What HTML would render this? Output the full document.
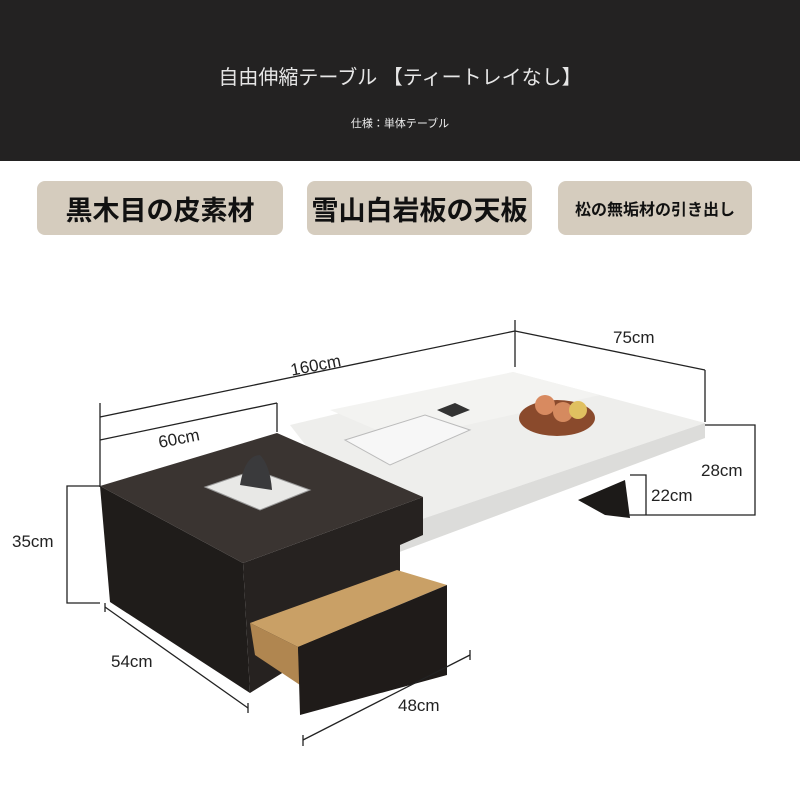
<!DOCTYPE html>
<html><head><meta charset="utf-8"><style>
body{margin:0;width:800px;height:800px;background:#fff;overflow:hidden;font-family:"Liberation Sans","Noto Sans CJK JP",sans-serif}
.hd{position:absolute;left:0;top:0;width:800px;height:161px;background:#232222}
.t1{position:absolute;top:61px;left:0;width:800px;text-align:center;color:#e6e6e6;font-size:20px}
.t2{position:absolute;top:115px;left:0;width:800px;text-align:center;color:#eee;font-size:11px}
.b{position:absolute;top:181px;height:54px;background:#d5ccbe;border-radius:8px;display:flex;align-items:center;justify-content:center;color:#111;font-weight:bold}
</style></head><body>
<div class="hd"></div>
<div class="t1">自由伸縮テーブル 【ティートレイなし】</div>
<div class="t2">仕様：単体テーブル</div>
<div class="b" style="left:37px;width:246px;font-size:27px">黒木目の皮素材</div>
<div class="b" style="left:307px;width:225px;font-size:27px">雪山白岩板の天板</div>
<div class="b" style="left:558px;width:194px;font-size:16px">松の無垢材の引き出し</div>
<svg width="800" height="800" style="position:absolute;left:0;top:0" font-family="Liberation Sans, sans-serif">
<polygon points="578,500 625,480 630,518 605,515" fill="#1c1a18"/>
<polygon points="290,425 513,372 705,423 375,535" fill="#eeeeec"/>
<polygon points="375,535 705,423 705,438 378,560" fill="#dcdcda"/>
<polygon points="330,410 513,372 600,395 400,440" fill="#f3f3f1"/>
<ellipse cx="557" cy="418" rx="38" ry="18" fill="#8a4a2c"/>
<circle cx="545" cy="405" r="10" fill="#d88a60"/><circle cx="563" cy="412" r="10" fill="#d58a5f"/><circle cx="578" cy="410" r="9" fill="#e0c060"/>
<polygon points="437,410 455,403 470,410 452,417" fill="#333"/>
<polygon points="345,440 425,415 470,430 390,465" fill="#f7f7f7" stroke="#bbb"/>
<polygon points="100,486 243,563 250,693 110,602" fill="#1f1c1a"/>
<polygon points="243,563 423,497 423,535 400,545 400,600 250,693" fill="#262220"/>
<polygon points="100,486 277,433 423,497 243,563" fill="#3a3431"/>
<polygon points="205,487 255,470 310,490 260,510" fill="#e8e8e6" stroke="#999"/>
<path d="M240,485 q5,-30 20,-30 q10,10 12,35 z" fill="#3a3a3c"/>
<polygon points="250,623 397,570 447,585 298,647" fill="#c9a066"/>
<polygon points="250,623 298,647 300,685 255,655" fill="#b08650"/>
<polygon points="298,647 447,585 447,675 300,715" fill="#1f1b19"/>
<g stroke="#222" stroke-width="1.3" fill="none">
<line x1="100" y1="403" x2="100" y2="487"/>
<line x1="100" y1="417" x2="515" y2="331"/>
<line x1="100" y1="440" x2="277" y2="403"/>
<line x1="277" y1="403" x2="277" y2="432"/>
<line x1="515" y1="320" x2="515" y2="367"/>
<line x1="515" y1="331" x2="705" y2="370"/>
<line x1="705" y1="370" x2="705" y2="422"/>
<polyline points="705,425 755,425 755,515 628,515"/>
<polyline points="630,475 646,475 646,515"/>
<polyline points="100,486 67,486 67,603 100,603"/>
<line x1="105" y1="607" x2="248" y2="708"/>
<line x1="105" y1="603" x2="105" y2="612"/>
<line x1="248" y1="703" x2="248" y2="713"/>
<line x1="303" y1="740" x2="470" y2="655"/>
<line x1="303" y1="735" x2="303" y2="746"/>
<line x1="470" y1="650" x2="470" y2="660"/>
</g>
<g fill="#222" font-size="17">
<text x="290" y="372" transform="rotate(-11 310 365)">160cm</text>
<text x="158" y="443" transform="rotate(-11 185 437)">60cm</text>
<text x="613" y="343">75cm</text>
<text x="701" y="476">28cm</text>
<text x="651" y="501">22cm</text>
<text x="12" y="547">35cm</text>
<text x="111" y="667">54cm</text>
<text x="398" y="711">48cm</text>
</g>
</svg>
</body></html>
